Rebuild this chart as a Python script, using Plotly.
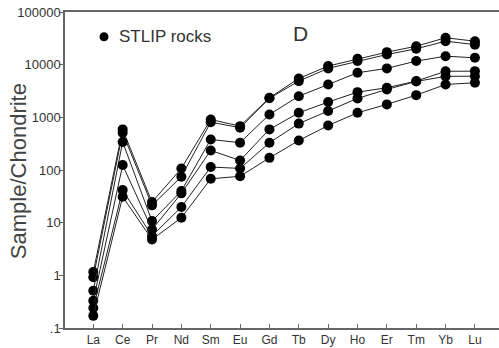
import plotly.graph_objects as go

elements = ["La", "Ce", "Pr", "Nd", "Sm", "Eu", "Gd", "Tb", "Dy", "Ho", "Er", "Tm", "Yb", "Lu"]

s1 = [1.16, 590, 24.6, 107, 910, 680, 2350, 5480, 9400, 12900, 17300, 22400, 32400, 27900]
s2 = [0.92, 510, 21.3, 74.6, 810, 635, 2300, 4870, 8500, 11700, 15600, 20000, 27900, 24000]
s3 = [0.51, 340, 10.7, 40, 380, 330, 1135, 2520, 4200, 7020, 8500, 11700, 14500, 13500]
s4 = [0.33, 124, 7.4, 36, 235, 152, 590, 1220, 1950, 3010, 3650, 4880, 7500, 7530]
s5 = [0.24, 41.5, 5.6, 19.8, 114, 107, 330, 760, 1320, 2290, 3390, 4800, 6000, 6040]
s6 = [0.17, 31, 4.8, 12.4, 68, 76, 170, 363, 700, 1220, 1760, 2640, 4200, 4540]
series = [s1, s2, s3, s4, s5, s6]

tick_vals = [0.1, 1, 10, 100, 1000, 10000, 100000]
tick_text = [".1", "1", "10", "100", "1000", "10000", "100000"]

legend_label = "STLIP rocks"
panel_label = "D"
y_title = "Sample/Chondrite"

x_idx = list(range(len(elements)))

fig = go.Figure()
for s in series:
    fig.add_trace(go.Scatter(
        x=x_idx, y=s, mode="lines+markers",
        line=dict(color="#222222", width=1),
        marker=dict(color="black", size=10),
        showlegend=False, cliponaxis=False,
    ))

fig.update_layout(
    width=499, height=348,
    margin=dict(l=65, r=0, t=12, b=20),
    paper_bgcolor="white", plot_bgcolor="white",
    font=dict(family="Liberation Sans, Arial, sans-serif", color="#333333"),
    showlegend=False,
    shapes=[dict(type="circle", xref="paper", yref="paper",
                 xsizemode="pixel", ysizemode="pixel",
                 xanchor=0.0899, yanchor=0.9218,
                 x0=-4.5, x1=4.5, y0=-4.5, y1=4.5,
                 fillcolor="black", line=dict(color="black", width=0))],
    annotations=[
        dict(text=legend_label, x=0.119, y=0.9218, xref="paper", yref="paper",
             xanchor="left", yanchor="middle", showarrow=False,
             font=dict(size=17, color="#333333")),
        dict(text=panel_label, x=0.5426, y=0.9304, xref="paper", yref="paper",
             xanchor="center", yanchor="middle", showarrow=False,
             font=dict(size=21, color="#333333")),
        dict(text=y_title, x=-0.107, y=0.495, xref="paper", yref="paper",
             xanchor="center", yanchor="middle", showarrow=False, textangle=-90,
             font=dict(size=22, color="#444444")),
    ],
)

fig.update_xaxes(
    range=[-0.964, 13.82],
    tickvals=x_idx, ticktext=elements,
    ticks="inside", ticklen=4, tickcolor="#666666",
    showline=True, linecolor="#666666", linewidth=1.5, mirror=True,
    showgrid=False, zeroline=False,
    tickfont=dict(size=12, color="#333333"),
)

fig.update_yaxes(
    type="log", range=[-1, 5],
    tickvals=tick_vals, ticktext=tick_text,
    ticks="outside", ticklen=4, tickcolor="#666666",
    ticklabelstandoff=-4,
    showline=True, linecolor="#666666", linewidth=1.5,
    showgrid=False, zeroline=False,
    tickfont=dict(size=13, color="#333333"),
)

fig.write_html("out.html")
